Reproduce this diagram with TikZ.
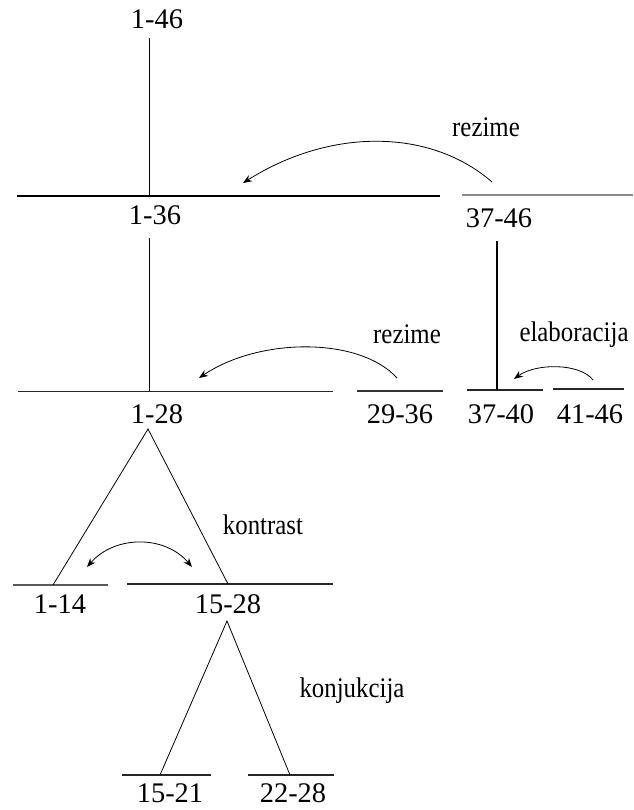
\documentclass[tikz,border=0pt]{standalone}
\usepackage{fontspec}
\setmainfont{Liberation Serif}
\usetikzlibrary{arrows.meta}
\newcommand{\cwrd}[1]{\scalebox{0.875}[1]{#1}}
\begin{document}
\begin{tikzpicture}[x=1pt,y=-1pt,
  lbl/.style={inner sep=0pt,anchor=base,font=\fontsize{28.4}{34}\selectfont},
  wrd/.style={inner sep=0pt,anchor=base,font=\fontsize{28.4}{34}\selectfont},
  seg/.style={line width=1pt,black!85},
  thickseg/.style={line width=2.6pt,black},
  grayseg/.style={line width=2pt,black!45},
  midseg/.style={line width=1.8pt,black!80},
  edge/.style={line width=0.8pt,black},
  rel/.style={line width=0.8pt,black,-{Stealth[length=9pt,width=7pt,inset=3pt]}},
  relb/.style={line width=0.8pt,black,{Stealth[length=9pt,width=7pt,inset=3pt]}-{Stealth[length=9pt,width=7pt,inset=3pt]}}]
\useasboundingbox (0,0) rectangle (633,810);
% labels
\node[lbl] (t146) at (157,29) {1-46};
\node[lbl] (t136) at (155,225) {1-36};
\node[lbl] (t3746) at (499,228) {37-46};
\node[lbl] (t128) at (157,423) {1-28};
\node[lbl] (t2936) at (400,423) {29-36};
\node[lbl] (t3740) at (501,423) {37-40};
\node[lbl] (t4146) at (590,423) {41-46};
\node[lbl] (t114) at (60,613) {1-14};
\node[lbl] (t1528) at (228,613) {15-28};
\node[lbl] (t1521) at (170,802) {15-21};
\node[lbl] (t2228) at (293,802) {22-28};
\node[wrd] (rez1) at (486,137) {\cwrd{rezime}};
\node[wrd] (rez2) at (407,343) {\cwrd{rezime}};
\node[wrd] (elab) at (574,341) {\cwrd{elaboracija}};
\node[wrd] (kontr) at (263,534) {\cwrd{kontrast}};
\node[wrd] (konj) at (352,697) {\cwrd{konjukcija}};
% horizontal segments
\coordinate (a1) at (17,196); \coordinate (a2) at (440,196);
\coordinate (b1) at (462,195); \coordinate (b2) at (633,195);
\coordinate (c1) at (18,391); \coordinate (c2) at (333,391);
\coordinate (d1) at (357,391); \coordinate (d2) at (443,391);
\coordinate (e1) at (467,390); \coordinate (e2) at (543,390);
\coordinate (f1) at (553,389); \coordinate (f2) at (624,389);
\coordinate (g1) at (13,585); \coordinate (g2) at (108,585);
\coordinate (h1) at (127,584); \coordinate (h2) at (333,584);
\coordinate (i1) at (122,775); \coordinate (i2) at (211,775);
\coordinate (j1) at (248,775); \coordinate (j2) at (334,775);
\draw[thickseg] (a1) -- (a2);
\draw[grayseg] (b1) -- (b2);
\draw[seg] (c1) -- (c2);
\draw[midseg] (d1) -- (d2);
\draw[seg,line width=1.4pt] (e1) -- (e2);
\draw[seg,line width=1.4pt] (f1) -- (f2);
\draw[seg,black!65,line width=1.2pt] (g1) -- (g2);
\draw[seg,line width=1.6pt] (h1) -- (h2);
\draw[seg,line width=1.2pt] (i1) -- (i2);
\draw[seg,line width=1.2pt] (j1) -- (j2);
% tree edges
\coordinate (v1) at (149,38); \coordinate (v2) at (149,195);
\coordinate (v3) at (149,238); \coordinate (v4) at (149,391);
\coordinate (w1) at (497,241); \coordinate (w2) at (497,390);
\coordinate (p1) at (148,429); \coordinate (p2) at (53,585); \coordinate (p3) at (228,584);
\coordinate (q1) at (227,621); \coordinate (q2) at (160,775); \coordinate (q3) at (290,775);
\draw[edge] (v1) -- (v2);
\draw[edge] (v3) -- (v4);
\draw[line width=2pt] (w1) -- (w2);
\draw[edge] (p2) -- (p1) -- (p3);
\draw[edge] (q2) -- (q1) -- (q3);
% relation arrows
\coordinate (r1s) at (492,182); \coordinate (r1e) at (243,183);
\draw[rel] (r1s) .. controls (430,128) and (330,128) .. (r1e);
\coordinate (r2s) at (397,378); \coordinate (r2e) at (199,378);
\draw[rel] (r2s) .. controls (360,337) and (260,337) .. (r2e);
\coordinate (r3s) at (593,380); \coordinate (r3e) at (514,379);
\draw[rel] (r3s) .. controls (580,363) and (536,363) .. (r3e);
\coordinate (r4s) at (87,567); \coordinate (r4e) at (192,567);
\draw[relb] (r4s) .. controls (115,535) and (165,535) .. (r4e);
\end{tikzpicture}
\end{document}
